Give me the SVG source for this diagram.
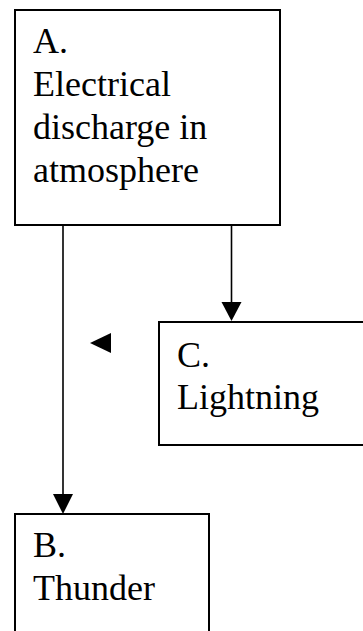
<svg xmlns="http://www.w3.org/2000/svg" width="363" height="631" viewBox="0 0 363 631">
<style>
.box{fill:#fff;stroke:#000;stroke-width:2}
.lbl{font-family:"Liberation Serif","Times New Roman",serif;font-size:36px;fill:#000}
.conn{stroke:#000;stroke-width:1.6;fill:none}
.head{fill:#000}
</style>
<rect width="363" height="631" fill="#fff"/>
<g id="connectors">
<line class="conn" x1="63" y1="225" x2="63" y2="496"/>
<polygon class="head" points="53,494 73,494 63,514"/>
<line class="conn" x1="231.5" y1="225" x2="231.5" y2="303"/>
<polygon class="head" points="221.5,302 241.5,302 231.5,321"/>
<polygon class="head" points="90,343 111,333 111,353"/>
</g>
<g id="nodeA">
<rect class="box" x="15" y="10" width="265" height="215"/>
<text class="lbl" x="33" y="53">A.</text>
<text class="lbl" x="33" y="96">Electrical</text>
<text class="lbl" x="33" y="139">discharge in</text>
<text class="lbl" x="33" y="182">atmosphere</text>
</g>
<g id="nodeC">
<rect class="box" x="159" y="322" width="206" height="123"/>
<text class="lbl" x="177" y="367">C.</text>
<text class="lbl" x="177" y="409">Lightning</text>
</g>
<g id="nodeB">
<rect class="box" x="15" y="514" width="194" height="130"/>
<text class="lbl" x="33" y="557">B.</text>
<text class="lbl" x="33" y="600">Thunder</text>
</g>
</svg>
